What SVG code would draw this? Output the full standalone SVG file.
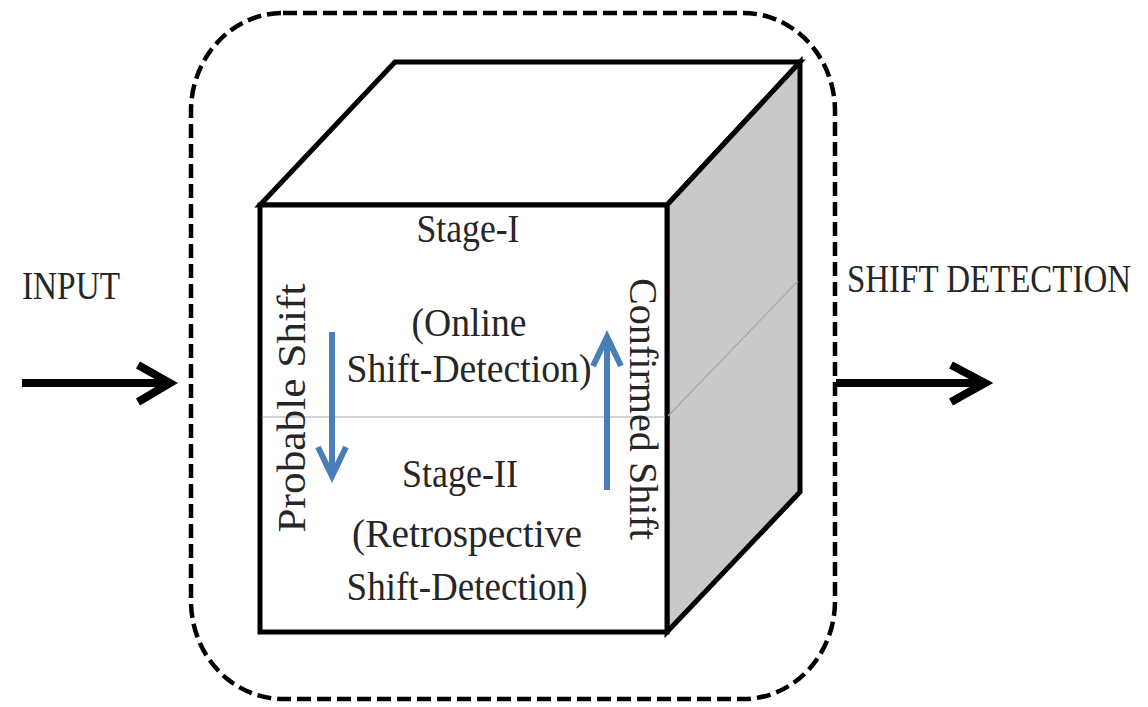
<svg xmlns="http://www.w3.org/2000/svg" width="1148" height="707" viewBox="0 0 1148 707">
  <style>
    .lbl { font-family: "Liberation Serif", "Times New Roman", serif; fill: #262626; }
    .edge { stroke: #000; stroke-width: 5; stroke-linejoin: miter; }
    .white { fill: #fff; }
    .grey { fill: #c9c9c9; }
    .thin { stroke: #a8a8a8; stroke-width: 1.2; fill: none; }
    .blk { stroke: #000; stroke-width: 8; fill: none; stroke-linejoin: miter; }
    .blue { stroke: #4a7ebb; stroke-width: 6; fill: none; stroke-linejoin: miter; }
  </style>
  <rect width="1148" height="707" fill="#fff"/>

  <g id="container">
    <rect x="191" y="13" width="644" height="686" rx="92" ry="98" fill="none" stroke="#000" stroke-width="4.5" stroke-dasharray="14 6"/>
  </g>

  <g id="cube">
    <polygon points="260,205 395,62 800,62 667,205" class="edge white"/>
    <polygon points="667,205 800,62 800,492 667,632" class="edge grey"/>
    <rect x="260" y="205" width="407" height="427" class="edge white"/>
    <line x1="262" y1="417" x2="665" y2="417" class="thin"/>
    <line x1="668" y1="416" x2="798" y2="281" class="thin"/>
  </g>

  <g id="stage1">
    <text class="lbl" x="468" y="242" font-size="40" text-anchor="middle" textLength="103" lengthAdjust="spacingAndGlyphs">Stage-I</text>
    <text class="lbl" x="469" y="336" font-size="40" text-anchor="middle" textLength="115" lengthAdjust="spacingAndGlyphs">(Online</text>
    <text class="lbl" x="469" y="382" font-size="40" text-anchor="middle" textLength="245" lengthAdjust="spacingAndGlyphs">Shift-Detection)</text>
  </g>

  <g id="stage2">
    <text class="lbl" x="460" y="487" font-size="40" text-anchor="middle" textLength="116" lengthAdjust="spacingAndGlyphs">Stage-II</text>
    <text class="lbl" x="467" y="547" font-size="40" text-anchor="middle" textLength="230" lengthAdjust="spacingAndGlyphs">(Retrospective</text>
    <text class="lbl" x="467" y="600" font-size="40" text-anchor="middle" textLength="241" lengthAdjust="spacingAndGlyphs">Shift-Detection)</text>
  </g>

  <g id="input-label">
    <text class="lbl" transform="translate(22,299) scale(1,1.18)" font-size="34" textLength="98" lengthAdjust="spacingAndGlyphs">INPUT</text>
  </g>

  <g id="output-label">
    <text class="lbl" transform="translate(847,292) scale(1,1.18)" font-size="34" textLength="284" lengthAdjust="spacingAndGlyphs">SHIFT DETECTION</text>
  </g>

  <g id="connectors">
    <g id="input-arrow">
      <line x1="22" y1="383" x2="166" y2="383" class="blk"/>
      <polyline points="138,365 170,383 138,402" class="blk"/>
    </g>
    <g id="output-arrow">
      <line x1="836" y1="383" x2="981" y2="383" class="blk"/>
      <polyline points="951,365 985,383 951,402" class="blk"/>
    </g>
    <g id="probable-shift">
      <line x1="332" y1="332" x2="332" y2="474" class="blue"/>
      <polyline points="318,447 332,476 346,447" class="blue"/>
      <text class="lbl" transform="translate(305,408) rotate(-90)" font-size="40" text-anchor="middle" textLength="249" lengthAdjust="spacingAndGlyphs">Probable Shift</text>
    </g>
    <g id="confirmed-shift">
      <line x1="607" y1="490" x2="607" y2="339" class="blue"/>
      <polyline points="593,366 607,337 621,366" class="blue"/>
      <text class="lbl" transform="translate(630,409) rotate(90)" font-size="40" text-anchor="middle" textLength="262" lengthAdjust="spacingAndGlyphs">Confirmed Shift</text>
    </g>
  </g>
</svg>
